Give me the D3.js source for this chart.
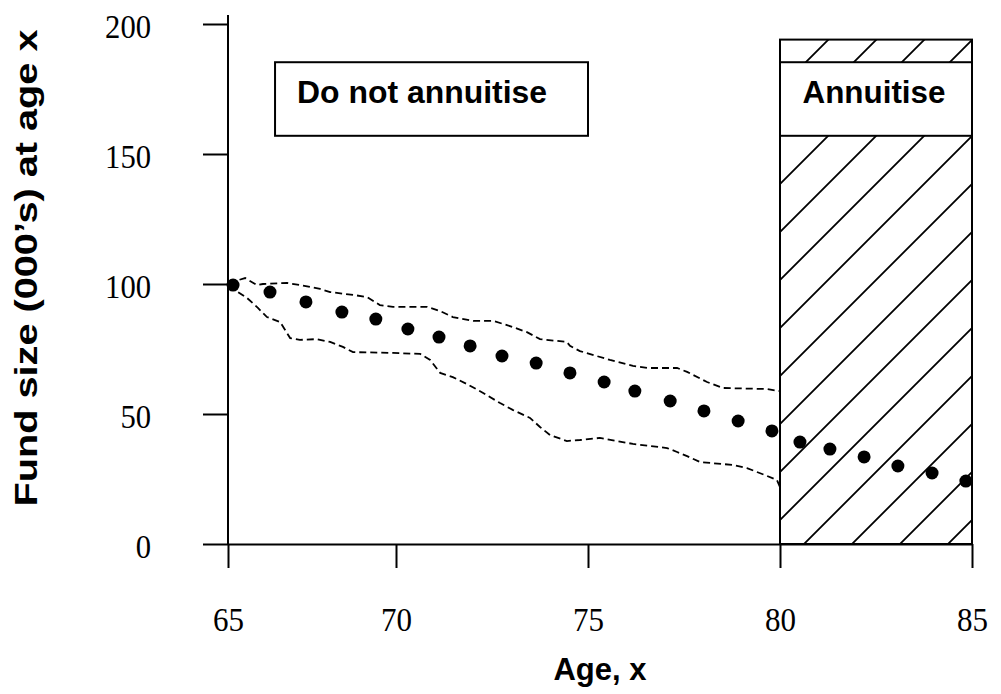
<!DOCTYPE html>
<html>
<head>
	<meta charset="utf-8">
	<script src="https://d3js.org/d3.v7.min.js"></script>
	<style>
		body {
			margin: 0;
			background: #fff;
		}

		.axis text {
			font-family: "Liberation Serif", "Times New Roman", serif;
			font-size: 33px;
			fill: #000;
		}

		.axis line, .axis path {
			stroke: #000;
			stroke-width: 2px;
		}

		.label {
			font-family: "Liberation Sans", Arial, sans-serif;
			font-weight: bold;
			font-size: 31px;
			fill: #000;
		}

		.band {
			fill: none;
			stroke: #000;
			stroke-width: 1.8px;
			stroke-dasharray: 7, 4;
		}
	</style>
</head>
<body>
	<script>
		// ticks
		var xTicks = [65, 70, 75, 80, 85];
		var yTicks = [0, 50, 100, 150, 200];

		// expected fund (dots)
		var dotAge = [65.15, 66.25, 67.32, 68.39, 69.40, 70.31, 71.12, 71.93, 72.76, 73.65, 74.53, 75.42,
			76.22, 77.14, 78.02, 78.91, 79.79, 80.52, 81.30, 82.19, 83.07, 83.96, 84.84];
		var dotFund = [99.6, 96.9, 93.1, 89.2, 86.5, 82.7, 79.6, 76.2, 72.3, 69.6, 65.8, 62.3,
			58.8, 55.0, 51.2, 47.3, 43.5, 39.2, 36.5, 33.5, 30.0, 27.3, 24.2];

		// upper bound (dashed)
		var upperAge = [65.03, 65.51, 65.86, 66.04, 66.76, 67.14, 67.74, 68.04, 68.72, 69.14, 69.52, 69.91,
			70.81, 71.15, 71.48, 72.01, 72.53, 72.89, 73.41, 73.75, 74.45, 74.53, 74.79, 75.57, 76.17,
			76.54, 77.32, 77.58, 78.10, 78.52, 79.66, 80.0];
		var upperFund = [100.4, 102.3, 99.6, 100.0, 100.4, 99.6, 98.1, 96.9, 95.8, 95.0, 91.9, 91.2,
			91.2, 89.6, 87.3, 85.8, 85.8, 84.2, 81.5, 78.8, 77.7, 76.2, 74.2, 70.8, 68.5,
			67.7, 67.7, 66.2, 62.3, 60.0, 59.6, 58.8];

		// lower bound (dashed)
		var lowerAge = [65.03, 65.57, 65.89, 66.16, 66.55, 66.85, 67.14, 67.65, 68.04, 68.42, 68.72, 69.91,
			70.63, 70.89, 71.15, 71.48, 71.85, 72.27, 72.71, 73.05, 73.49, 73.75, 74.01, 74.45, 74.79,
			75.31, 76.17, 77.06, 77.32, 77.58, 77.92, 78.78, 79.14, 79.66, 79.92, 80.0];
		var lowerFund = [99.2, 94.6, 90.8, 87.3, 85.4, 79.2, 78.5, 78.8, 77.7, 75.8, 73.8, 73.5,
			73.1, 70.8, 65.8, 64.2, 61.5, 58.1, 54.2, 51.5, 48.5, 45.0, 41.9, 39.6, 40.0,
			40.8, 38.5, 36.9, 35.4, 33.8, 31.5, 30.4, 29.2, 26.2, 24.6, 21.9];

		// regions
		var annuitiseAge = [80, 85];
		var annuitiseTop = 194;
		var doNotAge = [66.4, 75];
		var boxFund = [157, 185.3];
		var yAxisTop = 203.5;

		// variables
		var width = 1001;
		var height = 694;
		var margin = { top: 24, right: 29, bottom: 150, left: 228 };

		// scales (x axis spacing is uneven in the source: 65-70 narrower)
		var xScale = d3.scaleLinear()
			.domain([65, 70, 85])
			.range([margin.left, margin.left + 168, width - margin.right]);

		var yScale = d3.scaleLinear()
			.domain([0, 200])
			.range([height - margin.bottom, margin.top]);

		// svg
		var svg = d3.select("body")
			.append("svg")
			.attr("width", width)
			.attr("height", height);

		// hatch
		var pattern = svg.append("defs")
			.append("pattern")
			.attr("id", "hatch")
			.attr("patternUnits", "userSpaceOnUse")
			.attr("x", 4)
			.attr("width", 48)
			.attr("height", 48);
		pattern.append("rect")
			.attr("width", 48)
			.attr("height", 48)
			.attr("fill", "#fff");
		pattern.append("path")
			.attr("d", "M-12,12L12,-12M0,48L48,0M36,60L60,36")
			.attr("stroke", "#000")
			.attr("stroke-width", 1.8);

		// annuitise region
		svg.append("rect")
			.attr("x", xScale(annuitiseAge[0]))
			.attr("y", yScale(annuitiseTop))
			.attr("width", xScale(annuitiseAge[1]) - xScale(annuitiseAge[0]))
			.attr("height", yScale(0) - yScale(annuitiseTop))
			.attr("fill", "url(#hatch)")
			.attr("stroke", "#000")
			.attr("stroke-width", 2);

		// label boxes
		var boxes = [
			{ text: "Annuitise", ages: annuitiseAge, anchor: "middle", dx: -2, len: 143 },
			{ text: "Do not annuitise", ages: doNotAge, anchor: "start", dx: 22, len: 250 }
		];
		boxes.forEach(function(b) {
			var x0 = xScale(b.ages[0]);
			var x1 = xScale(b.ages[1]);
			var y0 = yScale(boxFund[1]);
			var y1 = yScale(boxFund[0]);
			svg.append("rect")
				.attr("x", x0)
				.attr("y", y0)
				.attr("width", x1 - x0)
				.attr("height", y1 - y0)
				.attr("fill", "#fff")
				.attr("stroke", "#000")
				.attr("stroke-width", 2);
			svg.append("text")
				.text(b.text)
				.attr("x", b.anchor == "middle" ? (x0 + x1) / 2 + b.dx : x0 + b.dx)
				.attr("y", y0 + 41)
				.attr("text-anchor", b.anchor)
				.attr("textLength", b.len)
				.attr("lengthAdjust", "spacingAndGlyphs")
				.attr("class", "label");
		});

		// dashed bounds
		var line = d3.line()
			.x(function(d) { return xScale(d[0]) })
			.y(function(d) { return yScale(d[1]) });

		svg.append("path")
			.datum(d3.zip(upperAge, upperFund))
			.attr("d", line)
			.attr("class", "band");
		svg.append("path")
			.datum(d3.zip(lowerAge, lowerFund))
			.attr("d", line)
			.attr("class", "band");

		// axes
		var xAxis = d3.axisBottom(xScale)
			.tickValues(xTicks)
			.tickSize(24)
			.tickSizeOuter(0);
		var yAxis = d3.axisLeft(yScale)
			.tickValues(yTicks)
			.tickSize(25)
			.tickSizeOuter(0)
			.tickPadding(52);

		var axisX = svg.append("g")
			.attr("class", "axis")
			.attr("transform", "translate(" + [0, yScale(0)] + ")")
			.call(xAxis);
		axisX.selectAll("text")
			.attr("y", 87)
			.attr("dy", "0")
			.attr("textLength", function(d) { return String(d).length * 15.5 })
			.attr("lengthAdjust", "spacingAndGlyphs");

		var axisY = svg.append("g")
			.attr("class", "axis")
			.attr("transform", "translate(" + [margin.left, 0] + ")")
			.call(yAxis);
		axisY.select(".domain").remove();
		axisY.append("line")
			.attr("y1", yScale(0))
			.attr("y2", yScale(yAxisTop));
		axisY.selectAll("text")
			.attr("dy", "0.4em")
			.attr("textLength", function(d) { return String(d).length * 15.3 })
			.attr("lengthAdjust", "spacingAndGlyphs");

		// dots
		svg.selectAll(".dot")
			.data(d3.zip(dotAge, dotFund))
			.enter()
			.append("circle")
			.attr("class", "dot")
			.attr("cx", function(d) { return xScale(d[0]) })
			.attr("cy", function(d) { return yScale(d[1]) })
			.attr("r", 6.5)
			.attr("fill", "#000");

		// titles
		svg.append("text")
			.text("Age, x")
			.attr("x", (xScale(65) + xScale(85)) / 2)
			.attr("y", 680)
			.attr("text-anchor", "middle")
			.attr("class", "label");
		svg.append("text")
			.text("Fund size (000\u2019s) at age x")
			.attr("transform", "translate(" + [37, 268] + ") rotate(-90)")
			.attr("text-anchor", "middle")
			.attr("textLength", 477)
			.attr("lengthAdjust", "spacingAndGlyphs")
			.attr("class", "label");
	</script>
</body>
</html>
